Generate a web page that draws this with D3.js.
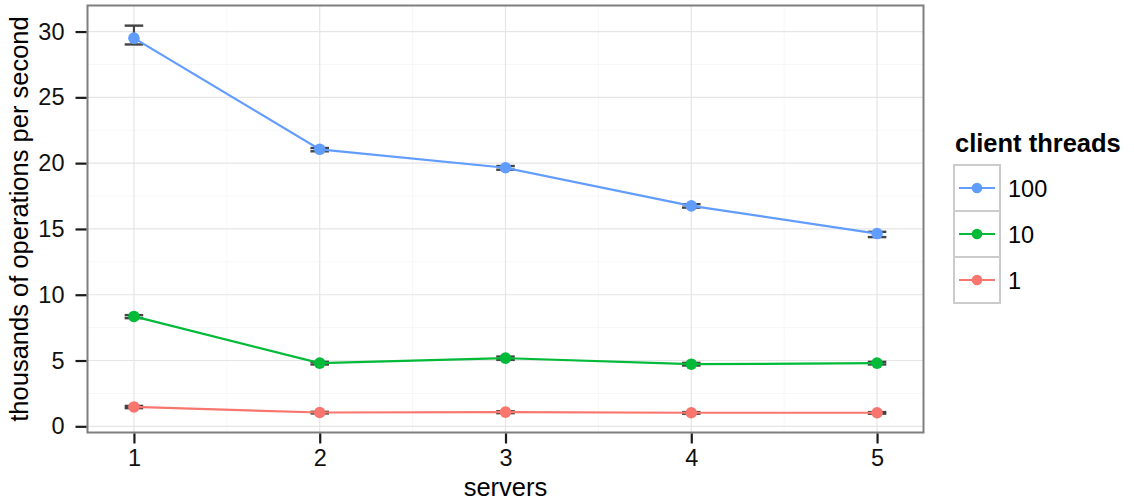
<!DOCTYPE html>
<html>
<head>
<meta charset="utf-8">
<script src="https://cdn.jsdelivr.net/npm/d3@7"></script>
<style>
  body { margin: 0; background: #fff; }
  svg { display: block; font-family: "Liberation Sans", Arial, Helvetica, sans-serif; }
</style>
</head>
<body>
<div id="chart"></div>
<script>
const servers = [1, 2, 3, 4, 5];
const seriesNames = ["100", "10", "1"];
const values100 = [29.5, 21.05, 19.65, 16.75, 14.65];
const values10 = [8.35, 4.8, 5.18, 4.72, 4.8];
const values1 = [1.47, 1.05, 1.08, 1.03, 1.03];
const errLow100 = [29.02, 20.9, 19.5, 16.62, 14.38];
const errHigh100 = [30.45, 21.15, 19.78, 16.88, 14.78];
const errLow10 = [8.22, 4.7, 5.05, 4.62, 4.7];
const errHigh10 = [8.45, 4.9, 5.3, 4.82, 4.9];
const errLow1 = [1.38, 0.98, 1.0, 0.96, 0.96];
const errHigh1 = [1.55, 1.1, 1.14, 1.08, 1.08];
const colors = ["#619CFF", "#00BA38", "#F8766D"];
const yTicks = [0, 5, 10, 15, 20, 25, 30];
const yMinor = [2.5, 7.5, 12.5, 17.5, 22.5, 27.5];
const xMinor = [1.5, 2.5, 3.5, 4.5];

const series = [
  { name: seriesNames[0], vals: values100, lo: errLow100, hi: errHigh100, color: colors[0] },
  { name: seriesNames[1], vals: values10, lo: errLow10, hi: errHigh10, color: colors[1] },
  { name: seriesNames[2], vals: values1, lo: errLow1, hi: errHigh1, color: colors[2] }
];

const W = 1134, H = 502;
const panel = { left: 87.5, right: 923.5, top: 5.5, bottom: 432.5 };

const svg = d3.select("#chart").append("svg").attr("width", W).attr("height", H);

const x = d3.scaleLinear().domain([0.75, 5.25]).range([panel.left, panel.right]);
const y = d3.scaleLinear().domain([-0.47, 31.98]).range([panel.bottom, panel.top]);

svg.append("rect").attr("x", panel.left).attr("y", panel.top)
  .attr("width", panel.right - panel.left).attr("height", panel.bottom - panel.top)
  .attr("fill", "#fff");

const grid = svg.append("g");
grid.selectAll(".ymin").data(yMinor).enter().append("line")
  .attr("x1", panel.left).attr("x2", panel.right)
  .attr("y1", d => y(d)).attr("y2", d => y(d))
  .attr("stroke", "#F7F7F7").attr("stroke-width", 1);
grid.selectAll(".xmin").data(xMinor).enter().append("line")
  .attr("y1", panel.top).attr("y2", panel.bottom)
  .attr("x1", d => x(d)).attr("x2", d => x(d))
  .attr("stroke", "#F7F7F7").attr("stroke-width", 1);
grid.selectAll(".ymaj").data(yTicks).enter().append("line")
  .attr("x1", panel.left).attr("x2", panel.right)
  .attr("y1", d => y(d)).attr("y2", d => y(d))
  .attr("stroke", "#E5E5E5").attr("stroke-width", 1.2);
grid.selectAll(".xmaj").data(servers).enter().append("line")
  .attr("y1", panel.top).attr("y2", panel.bottom)
  .attr("x1", d => x(d)).attr("x2", d => x(d))
  .attr("stroke", "#E5E5E5").attr("stroke-width", 1.2);

const line = d3.line().x((d, i) => x(servers[i])).y(d => y(d));
series.slice().reverse().forEach(s => {
  const g = svg.append("g");
  servers.forEach((sv, i) => {
    const hw = x(sv + 0.05) - x(sv);
    const cx = x(sv);
    g.append("line").attr("x1", cx).attr("x2", cx).attr("y1", y(s.lo[i])).attr("y2", y(s.hi[i]))
      .attr("stroke", "#444").attr("stroke-width", 2.2);
    g.append("line").attr("x1", cx - hw).attr("x2", cx + hw).attr("y1", y(s.lo[i])).attr("y2", y(s.lo[i]))
      .attr("stroke", "#444").attr("stroke-width", 2.4);
    g.append("line").attr("x1", cx - hw).attr("x2", cx + hw).attr("y1", y(s.hi[i])).attr("y2", y(s.hi[i]))
      .attr("stroke", "#444").attr("stroke-width", 2.4);
  });
  g.append("path").datum(s.vals).attr("d", line)
    .attr("fill", "none").attr("stroke", s.color).attr("stroke-width", 2.2);
  g.selectAll("circle").data(s.vals).enter().append("circle")
    .attr("cx", (d, i) => x(servers[i])).attr("cy", d => y(d)).attr("r", 5.8)
    .attr("fill", s.color);
});

svg.append("rect").attr("x", panel.left).attr("y", panel.top)
  .attr("width", panel.right - panel.left).attr("height", panel.bottom - panel.top)
  .attr("fill", "none").attr("stroke", "#7F7F7F").attr("stroke-width", 2);

const yAxis = d3.axisLeft(y).tickValues(yTicks).tickSize(11).tickPadding(11).tickFormat(d3.format("d"));
const ya = svg.append("g").attr("transform", `translate(${panel.left - 1},0)`).call(yAxis);
ya.select(".domain").remove();
ya.selectAll(".tick line").attr("stroke", "#1a1a1a").attr("stroke-width", 2.2);
ya.selectAll(".tick text").attr("font-size", 23.5).attr("fill", "#111")
  .attr("font-family", "Liberation Sans, Arial, sans-serif");

const xAxis = d3.axisBottom(x).tickValues(servers).tickSize(10).tickPadding(6).tickFormat(d3.format("d"));
const xa = svg.append("g").attr("transform", `translate(0,${panel.bottom + 1})`).call(xAxis);
xa.select(".domain").remove();
xa.selectAll(".tick line").attr("stroke", "#1a1a1a").attr("stroke-width", 2.2);
xa.selectAll(".tick text").attr("font-size", 23.5).attr("fill", "#111")
  .attr("font-family", "Liberation Sans, Arial, sans-serif");

svg.append("text").attr("x", (panel.left + panel.right) / 2).attr("y", 496)
  .attr("text-anchor", "middle").attr("font-size", 25.5).attr("fill", "#000").text("servers");
svg.append("text").attr("transform", `translate(28,${(panel.top + panel.bottom) / 2}) rotate(-90)`)
  .attr("text-anchor", "middle").attr("font-size", 25.5).attr("fill", "#000")
  .text("thousands of operations per second");

const lg = svg.append("g");
lg.append("text").attr("x", 955).attr("y", 152).attr("font-size", 25.5).attr("font-weight", "bold")
  .attr("fill", "#000").text("client threads");
const keyH = 46, keyW = 46, keyX = 954, keyY = 165;
series.forEach((s, i) => {
  const ky = keyY + i * keyH;
  lg.append("rect").attr("x", keyX).attr("y", ky).attr("width", keyW).attr("height", keyH)
    .attr("fill", "#fff").attr("stroke", "#CCCCCC").attr("stroke-width", 2);
  lg.append("line").attr("x1", keyX + 5).attr("x2", keyX + keyW - 5)
    .attr("y1", ky + keyH / 2).attr("y2", ky + keyH / 2)
    .attr("stroke", s.color).attr("stroke-width", 2.2);
  lg.append("circle").attr("cx", keyX + keyW / 2).attr("cy", ky + keyH / 2).attr("r", 5.3)
    .attr("fill", s.color);
  lg.append("text").attr("x", keyX + keyW + 8).attr("y", ky + keyH / 2 + 8.5)
    .attr("font-size", 23.5).attr("fill", "#000").text(s.name);
});
</script>
</body>
</html>
